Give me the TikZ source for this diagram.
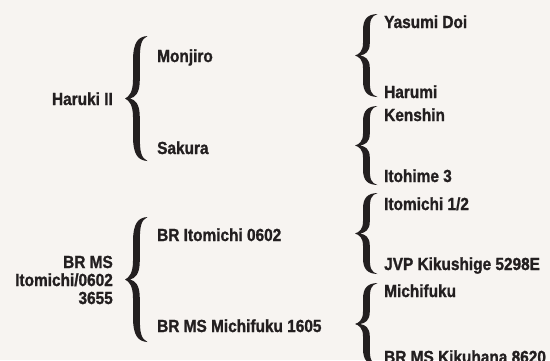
\documentclass[tikz,border=0pt]{standalone}
\usepackage{fontspec}
\newfontfamily\lblfont{Liberation Sans Bold}[FakeStretch=0.88,FakeBold=1.2]
\definecolor{bg}{HTML}{F7F4F1}
\definecolor{ink}{HTML}{231F20}
\newcommand\pedbrace[3]{% #1 tip x, #2 top y, #3 bottom y
 \begin{scope}[shift={(#1,{(#2+#3)/2})}, yscale={-(#3-#2)/2}]
 \fill[ink] (22.5,1) .. controls (13,0.99) and (8,0.9) .. (8,0.6) -- (8,0.3)
   .. controls (8,0.1) and (4,0.03) .. (0,0)
   .. controls (4,-0.03) and (8,-0.1) .. (8,-0.3) -- (8,-0.6)
   .. controls (8,-0.9) and (13,-0.99) .. (22.5,-1)
   .. controls (16,-0.95) and (14.8,-0.85) .. (14.8,-0.6) -- (14.8,-0.3)
   .. controls (14.8,-0.08) and (10,-0.02) .. (5,0)
   .. controls (10,0.02) and (14.8,0.08) .. (14.8,0.3) -- (14.8,0.6)
   .. controls (14.8,0.85) and (16,0.95) .. (22.5,1) -- cycle;
 \end{scope}}
\begin{document}
\begin{tikzpicture}[x=1pt,y=-1pt,
  lbl/.style={font=\lblfont\fontsize{17.5}{18}\selectfont, text=ink, inner sep=0pt}]
\fill[bg] (0,0) rectangle (550,360);
\useasboundingbox (0,0) rectangle (550,360);
% level 1
\node[lbl, anchor=base east] (haruki) at (113,105) {Haruki II};
\node[lbl, anchor=east, align=right] (brms) at (113,280) {BR MS\\Itomichi/0602\\3655};
% level 2
\node[lbl, anchor=base west] (monjiro) at (157,62) {Monjiro};
\node[lbl, anchor=base west] (sakura) at (157,154) {Sakura};
\node[lbl, anchor=base west] (britomichi) at (157,241) {BR Itomichi 0602};
\node[lbl, anchor=base west] (brmichifuku) at (157,332) {BR MS Michifuku 1605};
% level 3
\node[lbl, anchor=base west] (yasumi) at (384,28) {Yasumi Doi};
\node[lbl, anchor=base west] (harumi) at (384,98) {Harumi};
\node[lbl, anchor=base west] (kenshin) at (384,121) {Kenshin};
\node[lbl, anchor=base west] (itohime) at (384,182) {Itohime 3};
\node[lbl, anchor=base west] (itomichi) at (384,210) {Itomichi 1/2};
\node[lbl, anchor=base west] (jvp) at (384,270) {JVP Kikushige 5298E};
\node[lbl, anchor=base west] (michifuku) at (384,297) {Michifuku};
\node[lbl, anchor=base west] (kikuhana) at (384,363) {BR MS Kikuhana 8620};
% braces
\pedbrace{125}{36}{161}
\pedbrace{125}{217}{342}
\pedbrace{355}{14}{97}
\pedbrace{355}{106}{185}
\pedbrace{355}{193}{274}
\pedbrace{355}{283}{365}
\end{tikzpicture}
\end{document}
